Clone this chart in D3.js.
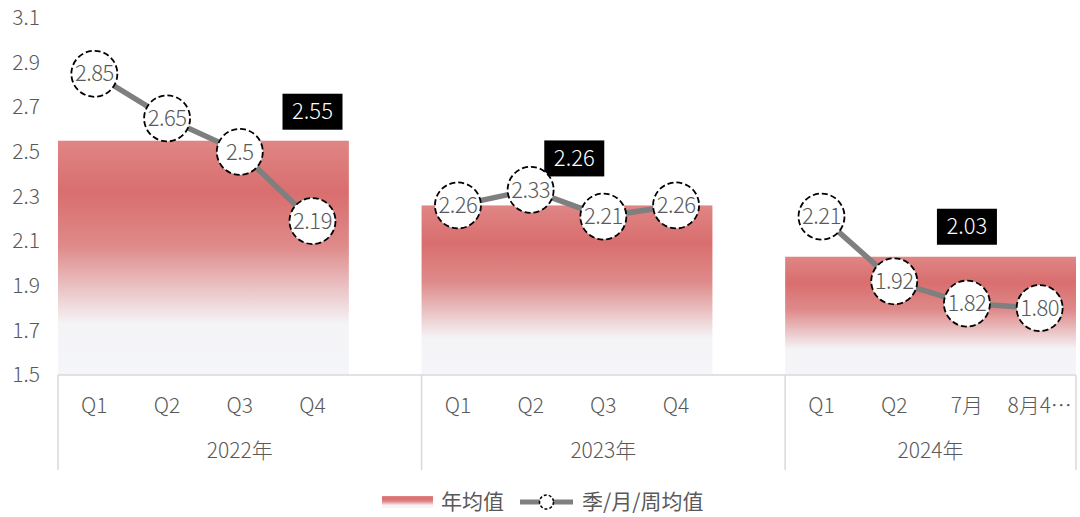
<!DOCTYPE html>
<html>
<head>
<meta charset="utf-8">
<script src="https://cdn.jsdelivr.net/npm/d3@7"></script>
<style>
  body { margin: 0; background: #ffffff; }
  text { font-family: "Noto Sans CJK SC", "Noto Sans", sans-serif; }
</style>
</head>
<body>
<script>
// data
var years = ["2022年", "2023年", "2024年"];
var periods = [["Q1", "Q2", "Q3", "Q4"], ["Q1", "Q2", "Q3", "Q4"], ["Q1", "Q2", "7月", "8月4…"]];
var periodValues = [[2.85, 2.65, 2.5, 2.19], [2.26, 2.33, 2.21, 2.26], [2.21, 1.92, 1.82, 1.80]];
var periodLabels = [["2.85", "2.65", "2.5", "2.19"], ["2.26", "2.33", "2.21", "2.26"], ["2.21", "1.92", "1.82", "1.80"]];
var yearAvg = [2.55, 2.26, 2.03];
var yTicks = [1.5, 1.7, 1.9, 2.1, 2.3, 2.5, 2.7, 2.9, 3.1];

function drawChart() {
  var W = 1080, H = 517;
  var left = 58, right = 1076, plotTop = 18, bottom = 375;

  var svg = d3.select("body").append("svg")
      .attr("width", W)
      .attr("height", H);

  // gradient for the yearly bars
  var defs = svg.append("defs");
  var grad = defs.append("linearGradient")
      .attr("id", "barGrad")
      .attr("x1", 0).attr("y1", 0).attr("x2", 0).attr("y2", 1);
  grad.append("stop").attr("offset", "0%").attr("stop-color", "#e08585");
  grad.append("stop").attr("offset", "22%").attr("stop-color", "#d96e6e");
  grad.append("stop").attr("offset", "45%").attr("stop-color", "#df8a8a");
  grad.append("stop").attr("offset", "78%").attr("stop-color", "#f4f3f6");
  grad.append("stop").attr("offset", "100%").attr("stop-color", "#f5f6fa");

  // category slots: each year's periods plus an empty slot between years
  var slots = [];
  years.forEach(function(yr, i) {
    periods[i].forEach(function(p, j) { slots.push(i + "|" + j); });
    if (i < years.length - 1) slots.push(i + "|gap");
  });

  var x = d3.scaleBand().domain(slots).range([left, right]).padding(0);
  var y = d3.scaleLinear().domain([1.5, 3.1]).range([bottom, plotTop]);
  var bw = x.bandwidth();

  // y axis labels (no line)
  var yAxis = svg.append("g")
      .attr("transform", "translate(" + (left - 15) + ",0)")
      .call(d3.axisLeft(y).tickValues(yTicks).tickSize(0).tickFormat(d3.format(".1f")));
  yAxis.select(".domain").remove();
  yAxis.selectAll("text")
      .attr("fill", "#595959")
      .style("font-size", "21px")
      .style("font-weight", "300");

  // yearly average bars
  years.forEach(function(yr, i) {
    var x0 = x(i + "|0");
    var x1 = x(i + "|" + (periods[i].length - 1)) + bw;
    svg.append("rect")
        .attr("x", x0)
        .attr("y", y(yearAvg[i]))
        .attr("width", x1 - x0)
        .attr("height", bottom - y(yearAvg[i]))
        .attr("fill", "url(#barGrad)");
  });

  // x axis line and group separators
  svg.append("line")
      .attr("x1", left).attr("x2", right)
      .attr("y1", bottom).attr("y2", bottom)
      .attr("stroke", "#d9d9d9").attr("stroke-width", 1.5);

  var groupEdges = [left];
  years.forEach(function(yr, i) {
    var last = i < years.length - 1 ? x(i + "|gap") + bw : right;
    groupEdges.push(last);
  });
  groupEdges.forEach(function(gx) {
    svg.append("line")
        .attr("x1", gx).attr("x2", gx)
        .attr("y1", bottom).attr("y2", 470)
        .attr("stroke", "#d9d9d9").attr("stroke-width", 1.5);
  });

  // period labels and year labels
  years.forEach(function(yr, i) {
    periods[i].forEach(function(p, j) {
      svg.append("text")
          .attr("x", x(i + "|" + j) + bw / 2)
          .attr("y", 413)
          .attr("text-anchor", "middle")
          .attr("fill", "#595959")
          .style("font-size", "21px")
          .style("font-weight", "300")
          .text(p);
    });
    svg.append("text")
        .attr("x", (groupEdges[i] + groupEdges[i + 1]) / 2)
        .attr("y", 458)
        .attr("text-anchor", "middle")
        .attr("fill", "#595959")
        .style("font-size", "21px")
        .style("font-weight", "300")
        .text(yr);
  });

  // year average labels (black boxes) sit behind the line;
  // offsets: slot units from the group's left edge, px above the bar top
  var avgLabelSlot = [3.5, 2.1, 2.5];
  var avgLabelLift = [29, 47, 30];
  years.forEach(function(yr, i) {
    var cx = groupEdges[i] + avgLabelSlot[i] * bw;
    var cy = y(yearAvg[i]) - avgLabelLift[i];
    svg.append("rect")
        .attr("x", cx - 30).attr("y", cy - 18)
        .attr("width", 60).attr("height", 36)
        .attr("fill", "#000000");
    svg.append("text")
        .attr("x", cx).attr("y", cy)
        .attr("dy", "0.35em")
        .attr("text-anchor", "middle")
        .attr("fill", "#ffffff")
        .style("font-size", "22px")
        .style("font-weight", "300")
        .text(d3.format(".2f")(yearAvg[i]));
  });

  // lines per year
  var line = d3.line()
      .x(function(d) { return d.x; })
      .y(function(d) { return y(d.v); });

  years.forEach(function(yr, i) {
    var pts = periodValues[i].map(function(v, j) {
      return { x: x(i + "|" + j) + bw / 2, v: v, label: periodLabels[i][j] };
    });
    svg.append("path")
        .datum(pts)
        .attr("d", line)
        .attr("fill", "none")
        .attr("stroke", "#7f7f7f")
        .attr("stroke-width", 5.5);

    var g = svg.selectAll(null).data(pts).enter().append("g")
        .attr("transform", function(d) { return "translate(" + d.x + "," + y(d.v) + ")"; });
    g.append("circle")
        .attr("r", 23)
        .attr("fill", "#ffffff")
        .attr("stroke", "#000000")
        .attr("stroke-width", 1.8)
        .attr("stroke-dasharray", "6,3");
    g.append("text")
        .attr("text-anchor", "middle")
        .attr("dy", "0.35em")
        .attr("fill", "#595959")
        .style("font-size", "22px")
        .style("font-weight", "300")
        .style("letter-spacing", "-0.5px")
        .text(function(d) { return d.label; });
  });

  // legend
  var lg = svg.append("g").attr("transform", "translate(0,502)");
  lg.append("rect")
      .attr("x", 382).attr("y", -6)
      .attr("width", 51).attr("height", 12)
      .attr("fill", "url(#barGrad)");
  lg.append("text")
      .attr("x", 441).attr("dy", "0.35em")
      .attr("fill", "#595959")
      .style("font-size", "21px")
      .text("年均值");
  lg.append("line")
      .attr("x1", 520).attr("x2", 573)
      .attr("stroke", "#7f7f7f").attr("stroke-width", 5);
  lg.append("circle")
      .attr("cx", 546.5).attr("r", 7)
      .attr("fill", "#ffffff")
      .attr("stroke", "#000000")
      .attr("stroke-width", 1.5)
      .attr("stroke-dasharray", "3,2");
  lg.append("text")
      .attr("x", 582).attr("dy", "0.35em")
      .attr("fill", "#595959")
      .style("font-size", "21px")
      .text("季/月/周均值");
}
drawChart();
</script>
</body>
</html>
